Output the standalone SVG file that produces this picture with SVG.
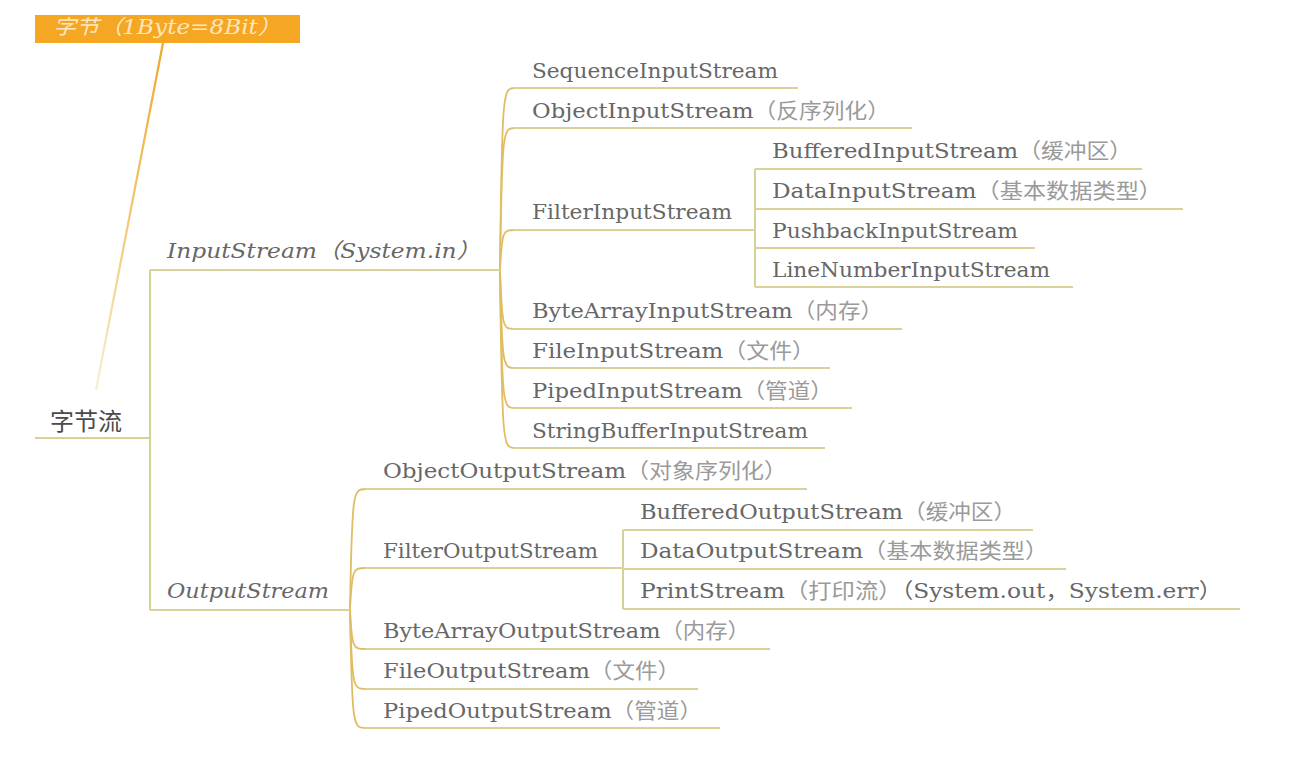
<svg xmlns="http://www.w3.org/2000/svg" width="1294" height="780" viewBox="0 0 1294 780">
<style>
.t{font-family:"DejaVu Serif","Noto Sans CJK SC",serif;font-size:21px;fill:#676767}
.k{fill:#9a9a9a}
.i{font-style:italic}
.u{stroke:#d8d29a;stroke-width:2;fill:none}
.c{stroke:#e0bd62;stroke-width:1.8;fill:none}
.s{stroke:#cfcf8e;stroke-width:1.8;fill:none}
</style>
<defs>
<linearGradient id="fade" x1="0" y1="0" x2="0" y2="1">
<stop offset="0" stop-color="#f0a52a"/>
<stop offset="0.6" stop-color="#f2cf80"/>
<stop offset="1" stop-color="#f6efd8"/>
</linearGradient>
</defs>
<rect width="1294" height="780" fill="#ffffff"/>
<g id="connectors">
<line x1="163" y1="43" x2="96" y2="390" stroke="url(#fade)" stroke-width="2.2"/>
<path class="s" d="M150,438 V270 M150,438 V610"/>
<path class="c" d="M500,270 C502,88 503,88 515,88"/>
<path class="c" d="M500,270 C502,128 503,128 515,128"/>
<path class="c" d="M500,270 C502,230 503,230 515,230"/>
<path class="c" d="M500,270 C502,329 503,329 515,329"/>
<path class="c" d="M500,270 C502,368 503,368 515,368"/>
<path class="c" d="M500,270 C502,408 503,408 515,408"/>
<path class="c" d="M500,270 C502,448 503,448 515,448"/>
<path class="s" d="M755,169 V287"/>
<path class="c" d="M350,610 C352,489 353,489 366,489"/>
<path class="c" d="M350,610 C352,568 353,568 366,568"/>
<path class="c" d="M350,610 C352,649 353,649 366,649"/>
<path class="c" d="M350,610 C352,689 353,689 366,689"/>
<path class="c" d="M350,610 C352,728 353,728 366,728"/>
<path class="s" d="M623,530 V609"/>
</g>
<g id="note-byte">
<rect x="35" y="15" width="265" height="28" fill="#f5a623"/>
<text x="53" y="34" class="t i" style="fill:#fde6bf;font-size:20px" textLength="228" lengthAdjust="spacingAndGlyphs">字节（1Byte=8Bit）</text>
</g>
<g id="root">
<text x="50" y="430" style="font-family:'Noto Sans CJK SC',serif;font-size:24px;fill:#4a4a4a">字节流</text>
<line class="u" x1="35" y1="438" x2="150" y2="438"/>
</g>
<g id="inputstream">
<text x="167" y="258" class="t i" textLength="313" lengthAdjust="spacingAndGlyphs">InputStream（System.in）</text>
<line class="u" x1="150" y1="270" x2="500" y2="270"/>
</g>
<g id="outputstream">
<text x="167" y="598" class="t i" textLength="162" lengthAdjust="spacingAndGlyphs">OutputStream</text>
<line class="u" x1="150" y1="610" x2="350" y2="610"/>
</g>
<g id="sequence-in">
<text x="532" y="78" class="t" textLength="246" lengthAdjust="spacingAndGlyphs">SequenceInputStream</text>
<line class="u" x1="513" y1="88" x2="798" y2="88"/>
</g>
<g id="object-in">
<text x="532" y="118" class="t" textLength="358" lengthAdjust="spacingAndGlyphs">ObjectInputStream<tspan class="k">（反序列化）</tspan></text>
<line class="u" x1="513" y1="128" x2="912" y2="128"/>
</g>
<g id="filter-in">
<text x="532" y="219" class="t" textLength="200" lengthAdjust="spacingAndGlyphs">FilterInputStream</text>
<line class="u" x1="513" y1="230" x2="755" y2="230"/>
</g>
<g id="buffered-in">
<text x="772" y="158" class="t" textLength="360" lengthAdjust="spacingAndGlyphs">BufferedInputStream<tspan class="k">（缓冲区）</tspan></text>
<line class="u" x1="755" y1="169" x2="1142" y2="169"/>
</g>
<g id="data-in">
<text x="772" y="198" class="t" textLength="390" lengthAdjust="spacingAndGlyphs">DataInputStream<tspan class="k">（基本数据类型）</tspan></text>
<line class="u" x1="755" y1="209" x2="1183" y2="209"/>
</g>
<g id="pushback-in">
<text x="772" y="238" class="t" textLength="246" lengthAdjust="spacingAndGlyphs">PushbackInputStream</text>
<line class="u" x1="755" y1="248" x2="1035" y2="248"/>
</g>
<g id="linenumber-in">
<text x="772" y="277" class="t" textLength="278" lengthAdjust="spacingAndGlyphs">LineNumberInputStream</text>
<line class="u" x1="755" y1="287" x2="1073" y2="287"/>
</g>
<g id="bytearray-in">
<text x="532" y="318" class="t" textLength="351" lengthAdjust="spacingAndGlyphs">ByteArrayInputStream<tspan class="k">（内存）</tspan></text>
<line class="u" x1="513" y1="329" x2="902" y2="329"/>
</g>
<g id="file-in">
<text x="532" y="358" class="t" textLength="283" lengthAdjust="spacingAndGlyphs">FileInputStream<tspan class="k">（文件）</tspan></text>
<line class="u" x1="513" y1="368" x2="830" y2="368"/>
</g>
<g id="piped-in">
<text x="532" y="398" class="t" textLength="301" lengthAdjust="spacingAndGlyphs">PipedInputStream<tspan class="k">（管道）</tspan></text>
<line class="u" x1="513" y1="408" x2="852" y2="408"/>
</g>
<g id="stringbuffer-in">
<text x="532" y="438" class="t" textLength="276" lengthAdjust="spacingAndGlyphs">StringBufferInputStream</text>
<line class="u" x1="513" y1="448" x2="825" y2="448"/>
</g>
<g id="object-out">
<text x="383" y="478" class="t" textLength="404" lengthAdjust="spacingAndGlyphs">ObjectOutputStream<tspan class="k">（对象序列化）</tspan></text>
<line class="u" x1="365" y1="489" x2="807" y2="489"/>
</g>
<g id="filter-out">
<text x="383" y="558" class="t" textLength="215" lengthAdjust="spacingAndGlyphs">FilterOutputStream</text>
<line class="u" x1="365" y1="568" x2="623" y2="568"/>
</g>
<g id="buffered-out">
<text x="640" y="519" class="t" textLength="376" lengthAdjust="spacingAndGlyphs">BufferedOutputStream<tspan class="k">（缓冲区）</tspan></text>
<line class="u" x1="623" y1="530" x2="1033" y2="530"/>
</g>
<g id="data-out">
<text x="640" y="558" class="t" textLength="408" lengthAdjust="spacingAndGlyphs">DataOutputStream<tspan class="k">（基本数据类型）</tspan></text>
<line class="u" x1="623" y1="569" x2="1066" y2="569"/>
</g>
<g id="print-out">
<text x="640" y="598" class="t" textLength="582" lengthAdjust="spacingAndGlyphs">PrintStream<tspan class="k">（打印流）</tspan>（System.out，System.err）</text>
<line class="u" x1="623" y1="609" x2="1240" y2="609"/>
</g>
<g id="bytearray-out">
<text x="383" y="638" class="t" textLength="367" lengthAdjust="spacingAndGlyphs">ByteArrayOutputStream<tspan class="k">（内存）</tspan></text>
<line class="u" x1="365" y1="649" x2="770" y2="649"/>
</g>
<g id="file-out">
<text x="383" y="678" class="t" textLength="297" lengthAdjust="spacingAndGlyphs">FileOutputStream<tspan class="k">（文件）</tspan></text>
<line class="u" x1="365" y1="689" x2="698" y2="689"/>
</g>
<g id="piped-out">
<text x="383" y="718" class="t" textLength="319" lengthAdjust="spacingAndGlyphs">PipedOutputStream<tspan class="k">（管道）</tspan></text>
<line class="u" x1="365" y1="728" x2="720" y2="728"/>
</g>
</svg>
